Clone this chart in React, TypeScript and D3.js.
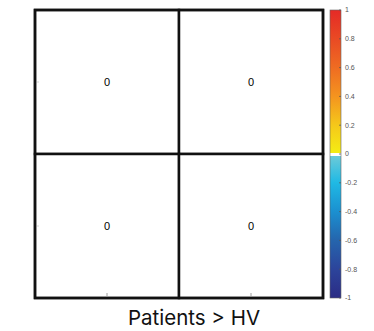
import React from "react";
import * as d3 from "d3";

const rows = ["r1", "r2"];
const cols = ["c1", "c2"];
const values = [
  [0, 0],
  [0, 0],
];
const cbTicks = [1, 0.8, 0.6, 0.4, 0.2, 0, -0.2, -0.4, -0.6, -0.8, -1];
const cmapStops: [number, string][] = [
  [-1, "#2b2c85"],
  [-0.8, "#2c449b"],
  [-0.6, "#2565ad"],
  [-0.4, "#1b90d0"],
  [-0.2, "#1fb9e4"],
  [-0.014, "#6ccad9"],
  [-0.013, "#ffffff"],
  [0.008, "#ffffff"],
  [0.009, "#f4ec14"],
  [0.2, "#f5c81a"],
  [0.4, "#f4941f"],
  [0.6, "#ef6c22"],
  [0.8, "#e94a24"],
  [1, "#e52a26"],
];
const xLabel = "Patients > HV";

export default function App() {
  const W = 374, H = 331;
  const x = d3.scaleBand().domain(cols).range([35, 323]);
  const y = d3.scaleBand().domain(rows).range([10, 298]);
  const cb = d3.scaleLinear().domain([1, -1]).range([10, 298]);
  const colour = d3
    .scaleLinear<string>()
    .domain(cmapStops.map((s) => s[0]))
    .range(cmapStops.map((s) => s[1]));
  const cbX = 330, cbW = 11;
  return (
    <svg width={W} height={H} style={{ position: "absolute", left: 0, top: 0 }}>
      <defs>
        <linearGradient id="cbg" x1="0" y1="0" x2="0" y2="1">
          {cmapStops
            .slice()
            .reverse()
            .map((s, i) => (
              <stop key={i} offset={(cb(s[0]) - 10) / 288} stopColor={s[1]} />
            ))}
        </linearGradient>
      </defs>
      <rect x={0} y={0} width={W} height={H} fill="#fff" />
      {rows.map((r, i) =>
        cols.map((c, j) => (
          <g key={r + c}>
            <rect
              x={x(c)}
              y={y(r)}
              width={x.bandwidth()}
              height={y.bandwidth()}
              fill={values[i][j] === 0 ? "#ffffff" : colour(values[i][j])}
              stroke="#111"
              strokeWidth={2.5}
            />
            <text
              x={x(c)! + x.bandwidth() / 2}
              y={y(r)! + y.bandwidth() / 2}
              dy="0.35em"
              textAnchor="middle"
              fontFamily="Liberation Sans, Arial, sans-serif"
              fontSize={11}
              fill="#000"
            >
              {values[i][j]}
            </text>
          </g>
        ))
      )}
      {cols.map((c) => (
        <line
          key={c}
          x1={x(c)! + x.bandwidth() / 2}
          x2={x(c)! + x.bandwidth() / 2}
          y1={296}
          y2={293}
          stroke="#888"
          strokeWidth={0.8}
        />
      ))}
      {rows.map((r) => (
        <line
          key={r}
          x1={36}
          x2={39}
          y1={y(r)! + y.bandwidth() / 2}
          y2={y(r)! + y.bandwidth() / 2}
          stroke="#bbb"
          strokeWidth={0.6}
        />
      ))}
      <rect x={35} y={10} width={288} height={288} fill="none" stroke="#111" strokeWidth={2.5} />
      <rect x={cbX} y={10} width={cbW} height={288} fill="url(#cbg)" stroke="#666" strokeWidth={0.6} />
      {cbTicks.map((t) => (
        <g key={t}>
          <line x1={cbX + cbW - 2} x2={cbX + cbW} y1={cb(t)} y2={cb(t)} stroke="#555" strokeWidth={0.7} />
          <text
            x={cbX + cbW + 4}
            y={cb(t)}
            dy="0.35em"
            fontFamily="Liberation Sans, Arial, sans-serif"
            fontSize={7}
            fill="#555"
          >
            {t}
          </text>
        </g>
      ))}
      <text
        x={194}
        y={325}
        textAnchor="middle"
        fontFamily="Inter, Liberation Sans, sans-serif"
        fontSize={20.5}
        fill="#111"
      >
        {xLabel}
      </text>
    </svg>
  );
}
